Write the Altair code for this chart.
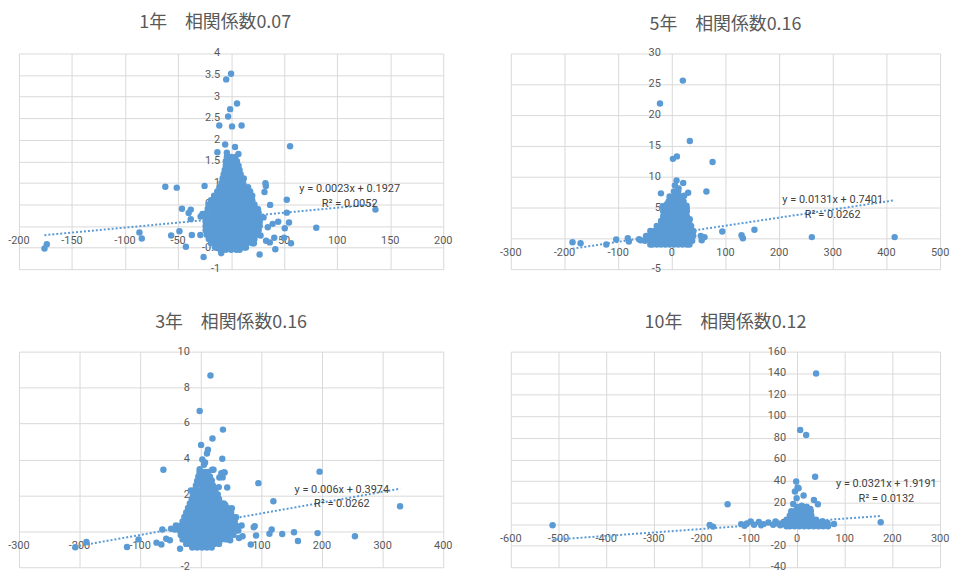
import altair as alt
import pandas as pd

BLUE = "#5B9BD5"
GRID = "#d9d9d9"
LABEL = "#595959"
EQ = "#404040"
TICK_FONT = "Roboto"
TITLE_FONT = "Noto Sans CJK JP"

titles = ["1年\u3000相関係数0.07", "5年\u3000相関係数0.16", "3年\u3000相関係数0.16", "10年\u3000相関係数0.12"]

# ---------------- 1年 ----------------
pts_1 = [
    (-175.9, -0.52), (-173.7, -0.42), (-86.4, -0.15), (-84.2, -0.29), (-62, 0.91), (-51.2, 0.89),
    (-56.5, -0.22), (-48.7, -0.12), (-46.3, 0.40), (-42.6, -0.48), (-38, 0.38), (-40, 0.30), (-38, 0.16),
    (-37, -0.21), (-29, -0.21), (-25.9, -0.72), (-25, 0.93), (-9.3, -0.63), (-27, 0.28), (-28.7, 0.22),
    (-4.6, 3.40), (0, 3.53), (5.6, 2.84), (-0.9, 2.71), (-2.8, 2.54), (-11.1, 2.33), (0.9, 2.31), (9.9, 2.33),
    (-5.6, 1.89), (3.7, 1.83), (-12.9, 1.71), (-4, 1.70), (6.9, 1.67), (55.6, 1.85),
    (32.4, 0.99), (32.8, 0.93), (31.5, 0.79), (15.5, 0.86), (11.5, 0.98), (36.8, 0.49),
    (52.5, 0.61), (52.5, 0.31), (54.6, 0.08), (50.6, -0.05), (44.4, 0.10), (39.2, 0.05), (34.6, -0.03),
    (30.6, 0.20), (28.4, 0.20), (80.3, -0.04), (136.1, 0.38), (33, -0.34), (36.5, -0.38), (40.7, -0.27),
    (41.7, -0.54), (50, -0.27), (56.5, -0.40), (26.9, -0.66), (21.5, -0.40), (27.8, -0.22), (25.4, 0.39),
    (19.2, 0.51), (15.7, 0.64), (-11.7, 0.66), (-20.4, 0.43),
]
# dense cloud, row by row: y value -> x values
cloud_1 = {
    1.6: [-4, 0, 4],
    1.5: [-5, -1.5, 2, 5.5],
    1.4: [-5, -1, 3, 7],
    1.3: [-6, -2.5, 1, 4.5, 8],
    1.2: [-7, -3, 1, 5, 9],
    1.1: [-8, -4.5, -1, 2.5, 6, 9.5, 12],
    1.0: [-9, -5, -1, 3, 7, 11],
    0.9: [-11, -7.5, -2.5, 2.5, 7.5, 12.5, 16],
    0.8: [-13, -10, -5, 0, 5, 10, 15, 18],
    0.7: [-16, -12.5, -7.5, -2.5, 2.5, 7.5, 12.5, 17.5, 20],
    0.6: [-19, -15, -10, -5, 0, 5, 10, 15, 20],
    0.5: [-21, -17.5, -12.5, -7.5, -2.5, 2.5, 7.5, 12.5, 17.5, 22],
    0.4: [-22, -20, -15, -10, -5, 0, 5, 10, 15, 20, 24],
    0.3: [-23, -17.5, -12.5, -7.5, -2.5, 2.5, 7.5, 12.5, 17.5, 22.5, 26],
    0.2: [-24, -20, -15, -10, -5, 0, 5, 10, 15, 20, 25, 27],
    0.1: [-24, -22.5, -17.5, -12.5, -7.5, -2.5, 2.5, 7.5, 12.5, 17.5, 22.5, 27],
    0.0: [-24, -20, -15, -10, -5, 0, 5, 10, 15, 20, 25, 27],
    -0.1: [-24, -22.5, -17.5, -12.5, -7.5, -2.5, 2.5, 7.5, 12.5, 17.5, 22.5, 26],
    -0.2: [-23, -20, -15, -10, -5, 0, 5, 10, 15, 20, 24],
    -0.3: [-21, -17.5, -12.5, -7.5, -2.5, 2.5, 7.5, 12.5, 17.5, 22],
    -0.4: [-19, -15, -10, -5, 0, 5, 10, 15, 20],
    -0.5: [-15, -12.5, -7.5, -2.5, 2.5, 7.5, 12.5, 14],
    -0.55: [-10, -5, 0, 5, 8],
}
x_ticks_1 = [-200, -150, -100, -50, 0, 50, 100, 150, 200]
x_labels_1 = ["-200", "-150", "-100", "-50", "0", "50", "100", "150", "200"]
y_ticks_1 = [-1, -0.5, 0, 0.5, 1, 1.5, 2, 2.5, 3, 3.5, 4]
y_labels_1 = ["-1", "-0.5", "0", "0.5", "1", "1.5", "2", "2.5", "3", "3.5", "4"]
trend_x_1 = [-176, 136]
trend_y_1 = [-0.212, 0.506]
eq_1 = ["y = 0.0023x + 0.1927", "R\u00b2 = 0.0052"]

# ---------------- 5年 ----------------
pts_5 = [
    (-185, -0.65), (-170, -0.8), (-122, -1.0), (-103.6, -0.2), (-82, 0.0), (-80, -0.5), (-61, -0.15), (-58, -0.3),
    (-22, 21.9), (20.6, 25.6), (33.6, 15.8), (2.1, 12.9), (9.5, 13.3), (76, 12.4), (-20.2, 7.3), (8.9, 9.4),
    (21.3, 9.0), (5.8, 8.6), (12.6, 8.1), (30.5, 7.4), (64.5, 7.6), (-0.4, 6.5), (27.4, 5.3), (27.8, 4.9),
    (23.1, 6.9), (18.2, 6.3), (-3.5, 6.6), (-14.6, 5.1), (-9.6, 5.5), (16.3, 4.6), (32.4, 2.4), (33.5, 3.1),
    (29.3, 2.6), (39.8, 1.1), (94.1, 1.1), (130, 0.5), (132.5, 0.0), (154, 1.4), (54, 0.4), (55.8, -0.3),
    (61, 0.2), (261, 0.2), (415.3, 0.2),
]
cloud_5 = {
    7.6: [4, 12],
    6.8: [-4, 4, 12, 18],
    6.0: [-6, 0, 8, 16, 22],
    5.2: [-17, -12, -4, 4, 12, 20, 26],
    4.4: [-16, -8, 0, 8, 16, 24, 28],
    3.6: [-16, -12, -4, 4, 12, 20, 28],
    2.8: [-20, -16, -8, 0, 8, 16, 24, 30],
    2.0: [-28, -20, -12, -4, 4, 12, 20, 28, 36],
    1.2: [-40, -32, -24, -16, -8, 0, 8, 16, 24, 32, 40],
    0.4: [-48, -44, -36, -28, -20, -12, -4, 4, 12, 20, 28, 36, 40],
    -0.4: [-50, -40, -32, -24, -16, -8, 0, 8, 16, 24, 32, 38],
    -1.0: [-40, -36, -28, -20, -12, -4, 4, 12, 20, 28, 33],
}
x_ticks_5 = [-300, -200, -100, 0, 100, 200, 300, 400, 500]
x_labels_5 = ["-300", "-200", "-100", "0", "100", "200", "300", "400", "500"]
y_ticks_5 = [-5, 0, 5, 10, 15, 20, 25, 30]
y_labels_5 = ["-5", "0", "5", "10", "15", "20", "25", "30"]
trend_x_5 = [-185, 415]
trend_y_5 = [-1.683, 6.177]
eq_5 = ["y = 0.0131x + 0.7401", "R\u00b2 = 0.0262"]

# ---------------- 3年 ----------------
pts_3 = [
    (16, 8.67), (-1.8, 6.69), (36.6, 5.66), (19.3, 5.16), (0.5, 4.81), (11.8, 4.54), (10.2, 4.33), (35.5, 4.04),
    (-61.7, 3.43), (21, 3.43), (39.4, 3.27), (36, 3.0), (196, 3.32), (95, 2.68), (43.6, 2.44), (29.7, 2.46),
    (-16.4, 2.27), (119.8, 1.67), (27.4, 1.83), (51.2, 1.28), (40.4, 1.46), (328.8, 1.39), (-63.4, 0.1),
    (-207, -0.89), (-188.6, -0.6), (-121.7, -0.87), (-102.7, -0.45), (-73, -0.63), (-34.2, -0.97),
    (-43, 0.1), (-37, 0.3), (-57, -0.41), (-51, -0.5), (-65, -0.73), (-49, 0.14), (-41, 0.32),
    (-21.7, 0.78), (58.2, 0.78), (67.4, 0.32), (63, -0.37), (69, -0.28), (87.4, 0.23), (89, 0.29), (91.2, -0.23),
    (82.5, -0.73), (48.5, -0.5), (113.3, -0.14), (117, 0.1), (134.4, -0.15), (153.8, -0.05), (160.3, -0.54),
    (192.7, -0.1), (254.3, -0.27), (2.6, 4.0), (7, 3.83), (5.3, 3.7), (-1.8, 3.45), (8, 3.18),
    (18.8, 3.43), (17.7, 2.84), (30.6, 2.99), (33.9, 3.23), (37.8, 3.27),
]
cloud_3 = {
    3.3: [-2, 6, 12],
    3.05: [-4, 2, 10, 15],
    2.8: [-6, -2, 6, 14, 18],
    2.55: [-8, 2, 10, 18, 20],
    2.3: [-10, -6, 2, 10, 18, 24],
    2.05: [-13, -6, 2, 10, 18, 26, 28],
    1.8: [-15, -10, -2, 6, 14, 22, 30],
    1.55: [-18, -14, -6, 2, 10, 18, 26, 34, 38],
    1.3: [-21, -18, -10, -2, 6, 14, 22, 30, 38, 44],
    1.05: [-24, -22, -14, -6, 2, 10, 18, 26, 34, 42, 50],
    0.8: [-27, -26, -18, -10, -2, 6, 14, 22, 30, 38, 46, 53],
    0.55: [-30, -22, -14, -6, 2, 10, 18, 26, 34, 42, 50, 56],
    0.3: [-33, -26, -18, -10, -2, 6, 14, 22, 30, 38, 46, 54, 59],
    0.05: [-35, -30, -22, -14, -6, 2, 10, 18, 26, 34, 42, 50, 58, 62],
    -0.2: [-33, -26, -18, -10, -2, 6, 14, 22, 30, 38, 46, 54],
    -0.45: [-30, -22, -14, -6, 2, 10, 18, 26, 34, 42],
    -0.7: [-24, -18, -10, -2, 6, 14, 22, 30],
    -0.9: [-14, -6, 2, 10, 18],
}
x_ticks_3 = [-300, -200, -100, 0, 100, 200, 300, 400]
x_labels_3 = ["-300", "-200", "-100", "0", "100", "200", "300", "400"]
y_ticks_3 = [-2, 0, 2, 4, 6, 8, 10]
y_labels_3 = ["-2", "0", "2", "4", "6", "8", "10"]
trend_x_3 = [-207, 329]
trend_y_3 = [-0.845, 2.371]
eq_3 = ["y = 0.006x + 0.3974", "R\u00b2 = 0.0262"]

# ---------------- 10年 ----------------
pts_10 = [
    (-512.4, -1.0), (-183, -0.7), (-176, -2.3), (-145.5, 18.4), (40, 139.7), (6.7, 87.3), (19.2, 82.7), (38, 44),
    (-1.7, 39.5), (3.3, 33.3), (1.2, 34), (-4.4, 30.3), (13.8, 26.6), (-0.8, 24.1), (35.5, 22.4), (43.8, 18.5),
    (-7.9, 18.6), (175.5, 1.7), (77.5, 0.2), (53.4, 2.7), (25.4, 12.4), (60, 1.0), (10, 17), (20, 16), (28, 14),
    (-30, 1), (-40, 0.5), (-50, -0.5), (-60, 1.5), (-70, 0), (-80, 2), (-90, -0.5), (-97, 2.5), (-105, 0.5),
    (-117, 0), (-110, -1.5), (-75, -1), (-45, 2.5), (-35, -1),
]
cloud_10 = {
    16: [0, 10, 20],
    12: [-12, -5, 5, 15, 25, 29],
    8: [-15, -10, 0, 10, 20, 30],
    4: [-22, -15, -5, 5, 15, 25, 35, 40],
    1: [-24, -20, -10, 0, 10, 20, 30, 40, 50, 60, 64],
    -2: [-22, -15, -5, 5, 15, 25, 35, 45, 55, 65],
}
x_ticks_10 = [-600, -500, -400, -300, -200, -100, 0, 100, 200, 300]
x_labels_10 = ["-600", "-500", "-400", "-300", "-200", "-100", "0", "100", "200", "300"]
y_ticks_10 = [-40, -20, 0, 20, 40, 60, 80, 100, 120, 140, 160]
y_labels_10 = ["-40", "-20", "0", "20", "40", "60", "80", "100", "120", "140", "160"]
trend_x_10 = [-512, 175.5]
trend_y_10 = [-14.52, 7.55]
eq_10 = ["y = 0.0321x + 1.9191", "R\u00b2 = 0.0132"]


def make_panel(pts, cloud, xdom, ydom, xt, xl, yt, yl, tx, ty, eq_lines, eq_at,
               title, width, height=217, tdx=0, tdy=0):
    allpts = list(pts) + [(cx, cy) for cy, row in cloud.items() for cx in row]
    df = pd.DataFrame({"x": [p[0] for p in allpts], "y": [p[1] for p in allpts]})
    xsc = alt.Scale(domain=xdom, nice=False, zero=False)
    ysc = alt.Scale(domain=ydom, nice=False, zero=False)
    xax = alt.Axis(values=xt, grid=True, gridColor=GRID, gridWidth=1, labels=False,
                   ticks=False, domain=False, title=None)
    yax = alt.Axis(values=yt, grid=True, gridColor=GRID, gridWidth=1, labels=False,
                   ticks=False, domain=False, title=None)

    def X():
        return alt.X("x:Q", scale=xsc, axis=xax)

    def Y():
        return alt.Y("y:Q", scale=ysc, axis=yax)

    xlab = alt.Chart(pd.DataFrame({"x": xt, "y": [0] * len(xt), "t": xl})).mark_text(
        font=TICK_FONT, fontSize=11, color=LABEL, baseline="middle", align="center", dy=15
    ).encode(x=X(), y=Y(), text="t:N")
    ylab = alt.Chart(pd.DataFrame({"x": [0] * len(yt), "y": yt, "t": yl})).mark_text(
        font=TICK_FONT, fontSize=11, color=LABEL, baseline="middle", align="right", dx=-11
    ).encode(x=X(), y=Y(), text="t:N")
    dots = alt.Chart(df).mark_circle(size=42, color=BLUE, opacity=1).encode(x=X(), y=Y())
    trend = alt.Chart(pd.DataFrame({"x": tx, "y": ty})).mark_line(
        color=BLUE, strokeWidth=2, strokeDash=[2, 2]
    ).encode(x=X(), y=Y())
    eq = alt.Chart(pd.DataFrame({"x": [eq_at[0]], "y": [eq_at[1]]})).mark_text(
        text=eq_lines, font=TICK_FONT, fontSize=11, color=EQ, lineHeight=15,
        align="center", baseline="middle"
    ).encode(x=X(), y=Y())
    return alt.layer(xlab, ylab, dots, trend, eq).properties(
        width=width, height=height,
        title=alt.TitleParams(text=title, font=TITLE_FONT, fontSize=18, fontWeight="normal",
                              color=LABEL, anchor="middle", frame="group", baseline="bottom",
                              offset=-4, dx=tdx, dy=tdy),
    )


p1 = make_panel(pts_1, cloud_1, [-200, 200], [-1, 4], x_ticks_1, x_labels_1, y_ticks_1, y_labels_1,
                trend_x_1, trend_y_1, eq_1, (111.8, 0.85), titles[0], 427, tdx=-16, tdy=-2)
p5 = make_panel(pts_5, cloud_5, [-300, 500], [-5, 30], x_ticks_5, x_labels_5, y_ticks_5, y_labels_5,
                trend_x_5, trend_y_5, eq_5, (299.9, 6.16), titles[1], 432)
p3 = make_panel(pts_3, cloud_3, [-300, 400], [-2, 10], x_ticks_3, x_labels_3, y_ticks_3, y_labels_3,
                trend_x_3, trend_y_3, eq_3, (232.7, 2.32), titles[2], 427)
p10 = make_panel(pts_10, cloud_10, [-600, 300], [-40, 160], x_ticks_10, x_labels_10, y_ticks_10, y_labels_10,
                 trend_x_10, trend_y_10, eq_10, (187.4, 37.4), titles[3], 432)

chart = alt.concat(
    p1, p5, p3, p10, columns=2, spacing={"row": 83, "column": 68}, bounds="flush", align="each"
).properties(
    padding={"left": 0, "top": 4, "right": 4, "bottom": 0}, background="white"
).configure_view(stroke=None)

chart.save("out.html", embed_options={"renderer": "svg", "actions": False})
